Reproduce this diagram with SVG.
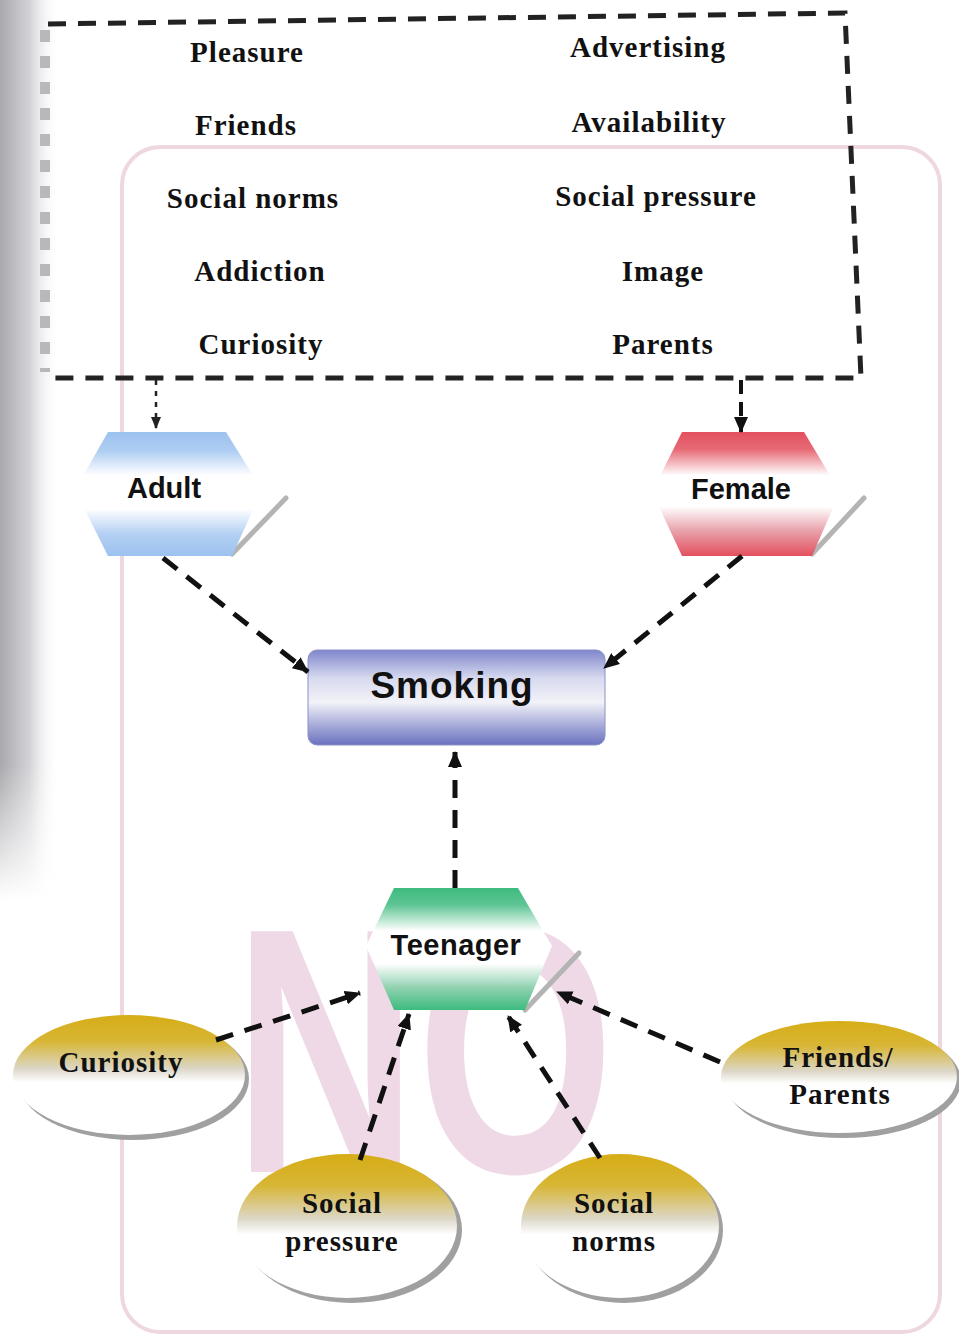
<svg xmlns="http://www.w3.org/2000/svg" width="959" height="1342" viewBox="0 0 959 1342">
<defs>
<linearGradient id="leftShade" x1="0" y1="0" x2="1" y2="0">
<stop offset="0" stop-color="#a9a9ad"/>
<stop offset="0.5" stop-color="#d4d4d8"/>
<stop offset="1" stop-color="#ffffff" stop-opacity="0"/>
</linearGradient>
<linearGradient id="leftShadeV" x1="0" y1="0" x2="0" y2="1">
<stop offset="0" stop-color="#fff" stop-opacity="1"/>
<stop offset="0.85" stop-color="#fff" stop-opacity="1"/>
<stop offset="1" stop-color="#fff" stop-opacity="0"/>
</linearGradient>
<mask id="leftMask"><rect x="0" y="0" width="60" height="900" fill="url(#leftShadeV)"/></mask>
<linearGradient id="gBlue" x1="0" y1="0" x2="0" y2="1">
<stop offset="0" stop-color="#9cc2ef"/>
<stop offset="0.15" stop-color="#aecdf2"/>
<stop offset="0.35" stop-color="#ffffff"/>
<stop offset="0.62" stop-color="#ffffff"/>
<stop offset="0.82" stop-color="#b4d0f3"/>
<stop offset="1" stop-color="#9cc2ef"/>
</linearGradient>
<linearGradient id="gRed" x1="0" y1="0" x2="0" y2="1">
<stop offset="0" stop-color="#e4505e"/>
<stop offset="0.14" stop-color="#e66a76"/>
<stop offset="0.35" stop-color="#ffffff"/>
<stop offset="0.6" stop-color="#ffffff"/>
<stop offset="0.8" stop-color="#e8a0aa"/>
<stop offset="1" stop-color="#e4505e"/>
</linearGradient>
<linearGradient id="gGreen" x1="0" y1="0" x2="0" y2="1">
<stop offset="0" stop-color="#3dbb7e"/>
<stop offset="0.14" stop-color="#5fc595"/>
<stop offset="0.35" stop-color="#ffffff"/>
<stop offset="0.62" stop-color="#ffffff"/>
<stop offset="0.82" stop-color="#8fd1b0"/>
<stop offset="1" stop-color="#3dbb7e"/>
</linearGradient>
<linearGradient id="gSmoke" x1="0" y1="0" x2="0" y2="1">
<stop offset="0" stop-color="#7f86cc"/>
<stop offset="0.3" stop-color="#d8dbef"/>
<stop offset="0.55" stop-color="#f2f2f8"/>
<stop offset="0.8" stop-color="#a4a9d8"/>
<stop offset="1" stop-color="#6b72bf"/>
</linearGradient>
<linearGradient id="gGold" x1="0" y1="0" x2="0" y2="1">
<stop offset="0" stop-color="#d6ad17"/>
<stop offset="0.22" stop-color="#d8b635"/>
<stop offset="0.45" stop-color="#dcd7c8"/>
<stop offset="0.56" stop-color="#ffffff"/>
<stop offset="1" stop-color="#ffffff"/>
</linearGradient>
<marker id="ah" viewBox="0 0 16 14" markerWidth="16" markerHeight="14" refX="15" refY="7" orient="auto" markerUnits="userSpaceOnUse">
<path d="M0,0 L16,7 L0,14 Z" fill="#111"/>
</marker>
<marker id="ahs" viewBox="0 0 12 10" markerWidth="12" markerHeight="10" refX="11" refY="5" orient="auto" markerUnits="userSpaceOnUse">
<path d="M0,0 L12,5 L0,10 Z" fill="#222"/>
</marker>
</defs>
<style>
.lst{font-family:"Liberation Serif","Times New Roman",serif;font-weight:bold;font-size:29px;letter-spacing:1px;fill:#111;text-anchor:middle}
.ell{font-family:"Liberation Serif","Times New Roman",serif;font-weight:bold;font-size:29px;letter-spacing:1px;fill:#111;text-anchor:middle}
.hex{font-family:"Liberation Sans",Arial,sans-serif;font-weight:bold;font-size:29px;fill:#111;text-anchor:middle}
.conn{fill:none;stroke:#111;stroke-width:5;stroke-dasharray:18 12;marker-end:url(#ah)}
.shadowline{stroke:#b4b4b4;stroke-width:5;stroke-linecap:round}
.eshadow{fill:#a0a0a0}
</style>
<rect x="0" y="0" width="959" height="1342" fill="#ffffff"/>
<g id="background">
<rect x="0" y="0" width="60" height="900" fill="url(#leftShade)" mask="url(#leftMask)"/>
<rect x="122" y="147" width="818" height="1185" rx="38" fill="none" stroke="#eed8de" stroke-width="4"/>
<text x="424" y="1172" font-family="'Liberation Sans',Arial,sans-serif" font-weight="bold" font-size="350" fill="#efd9e6" text-anchor="middle" textLength="380" lengthAdjust="spacingAndGlyphs">NO</text>
</g>
<g id="factors-box">
<path d="M48,24 L845,13 L861,378 L48,378" fill="none" stroke="#222" stroke-width="5" stroke-dasharray="18 12"/>
<line x1="45" y1="30" x2="45" y2="372" stroke="#b8b8bc" stroke-width="10" stroke-dasharray="12 14"/>
<text class="lst" x="247" y="62">Pleasure</text>
<text class="lst" x="246" y="135">Friends</text>
<text class="lst" x="253" y="208">Social norms</text>
<text class="lst" x="260" y="281">Addiction</text>
<text class="lst" x="261" y="354">Curiosity</text>
<text class="lst" x="648" y="57">Advertising</text>
<text class="lst" x="649" y="132">Availability</text>
<text class="lst" x="656" y="206">Social pressure</text>
<text class="lst" x="663" y="281">Image</text>
<text class="lst" x="663" y="354">Parents</text>
</g>
<g id="adult">
<line class="shadowline" x1="232" y1="554" x2="286" y2="498"/>
<polygon points="75,490 108,432 226,432 262,490 232,556 108,556" fill="url(#gBlue)"/>
<text class="hex" x="164" y="498">Adult</text>
</g>
<g id="female">
<line class="shadowline" x1="812" y1="554" x2="864" y2="498"/>
<polygon points="652,492 682,432 804,432 840,492 812,556 682,556" fill="url(#gRed)"/>
<text class="hex" x="741" y="499">Female</text>
</g>
<g id="smoking">
<rect x="308" y="650" width="297" height="95" rx="9" fill="url(#gSmoke)"/>
<rect x="308" y="650" width="297" height="95" rx="9" fill="none" stroke="#8b90c8" stroke-width="1"/>
<text x="452" y="698" font-family="'Liberation Sans',Arial,sans-serif" font-weight="bold" font-size="37" letter-spacing="1" fill="#111" text-anchor="middle">Smoking</text>
</g>
<g id="teenager">
<line class="shadowline" x1="525" y1="1010" x2="579" y2="953"/>
<polygon points="366,946 394,888 518,888 552,946 525,1010 394,1010" fill="url(#gGreen)"/>
<text class="hex" x="456" y="955" letter-spacing="0.5">Teenager</text>
</g>
<g id="curiosity">
<ellipse class="eshadow" cx="133" cy="1079" rx="116" ry="61"/>
<ellipse cx="129" cy="1075" rx="116" ry="60" fill="url(#gGold)"/>
<text class="ell" x="121" y="1072">Curiosity</text>
</g>
<g id="social-pressure">
<ellipse class="eshadow" cx="352" cy="1230" rx="110" ry="73"/>
<ellipse cx="347" cy="1226" rx="110" ry="72" fill="url(#gGold)"/>
<text class="ell" x="342" y="1213">Social</text>
<text class="ell" x="342" y="1251">pressure</text>
</g>
<g id="social-norms">
<ellipse class="eshadow" cx="624" cy="1230" rx="99" ry="73"/>
<ellipse cx="620" cy="1226" rx="99" ry="72" fill="url(#gGold)"/>
<text class="ell" x="614" y="1213">Social</text>
<text class="ell" x="614" y="1251">norms</text>
</g>
<g id="friends-parents">
<ellipse class="eshadow" cx="843" cy="1081" rx="118" ry="57"/>
<ellipse cx="839" cy="1077" rx="118" ry="56" fill="url(#gGold)"/>
<text class="ell" x="838" y="1067">Friends/</text>
<text class="ell" x="840" y="1104">Parents</text>
</g>
<g id="connectors">
<line x1="156" y1="380" x2="156" y2="428" stroke="#222" stroke-width="2.5" stroke-dasharray="5 6" marker-end="url(#ahs)"/>
<line x1="741" y1="380" x2="741" y2="432" stroke="#111" stroke-width="4" stroke-dasharray="14 8" marker-end="url(#ah)"/>
<line class="conn" x1="163" y1="558" x2="308" y2="672"/>
<line class="conn" x1="742" y1="556" x2="604" y2="668"/>
<line class="conn" x1="455" y1="888" x2="455" y2="752"/>
<line class="conn" x1="216" y1="1040" x2="360" y2="993"/>
<line class="conn" x1="360" y1="1160" x2="409" y2="1014"/>
<line class="conn" x1="600" y1="1158" x2="508" y2="1016"/>
<line class="conn" x1="720" y1="1062" x2="557" y2="992"/>
</g>
</svg>
